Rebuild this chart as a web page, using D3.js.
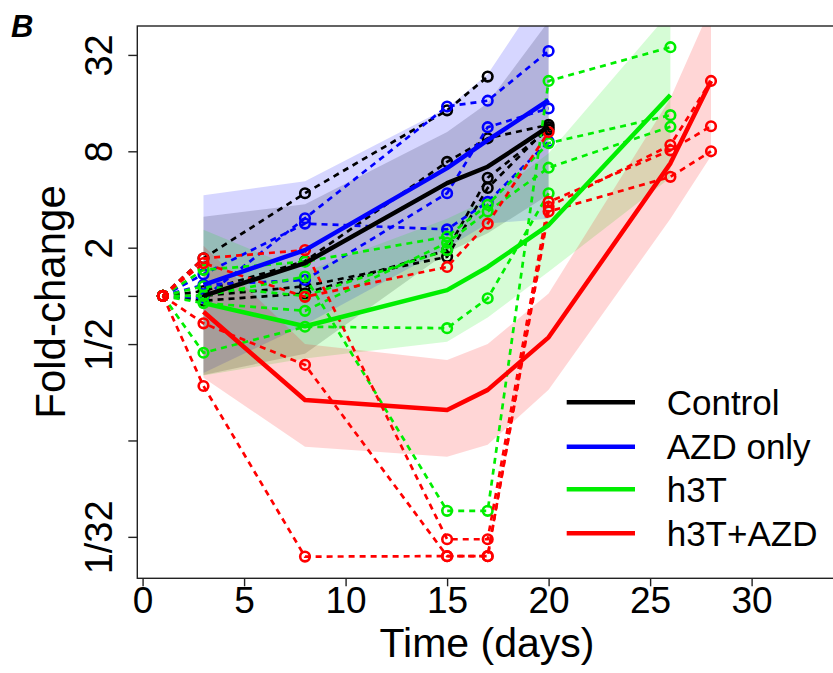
<!DOCTYPE html>
<html><head><meta charset="utf-8">
<script src="https://cdn.jsdelivr.net/npm/d3@7"></script>
<style>
body{margin:0;background:#fff}
text{font-family:Arial,"Liberation Sans",sans-serif}
</style>
</head><body>
<svg id="chart" width="833" height="673"></svg>
<script>
// ---- data (values in log2 fold-change) ----
const days = [1, 3, 8, 15, 17, 20, 26, 28];
const groups = ["Control", "AZD only", "h3T", "h3T+AZD"];
const colors = ["#000000", "#0000ff", "#00ee00", "#ff0000"];
const yTickValues = [5, 3, 1, 0, -1, -3, -5];
const yTickLabels = ["32", "8", "2", "", "1/2", "", "1/32"];
const xTickValues = [0, 5, 10, 15, 20, 25, 30];

// individual animals (aligned to days; null = not measured)
const controlMice = [
  [0, 0.78, 2.13, 3.85, 4.55, null, null, null],
  [0, 0.10, 0.72, 2.78, 3.27, 3.55, null, null],
  [0, -0.10, 0.05, 0.95, 2.45, 3.45, null, null],
  [0, 0.00, 0.20, 0.81, 2.24, 3.50, null, null]
];
const azdMice = [
  [0, -0.04, 1.61, 3.93, 4.05, 5.08, null, null],
  [0, 0.23, 0.33, 2.13, 3.50, 3.89, null, null],
  [0, 0.45, 1.50, 1.38, 1.95, 3.20, null, null]
];
const h3tMice = [
  [0, 0.54, 0.71, 1.23, 1.89, 3.17, 3.75, null],
  [0, -0.15, -0.31, 1.10, 1.75, 2.66, 3.51, null],
  [0, -1.18, -0.64, -0.67, -0.05, 2.13, null, null],
  [0, 0.00, 0.40, -4.46, -4.46, 4.46, 5.16, null],
  [0, 0.20, 0.00, 0.95, null, null, null, null]
];
const comboMice = [
  [0, -1.87, -5.41, -5.40, -5.40, 1.75, 2.47, 3.00],
  [0, 0.78, 0.95, -5.05, -5.05, 1.95, 3.02, 3.52],
  [0, -0.57, -1.43, -5.40, -5.40, 1.85, 3.13, 4.46],
  [0, 0.68, -0.02, 0.60, 1.50, 3.40, null, null]
];

// group means and confidence bands (aligned to days)
const controlMean = [null, 0.00, 0.68, 2.34, 2.68, 3.51, null, null];
const controlLo   = [null, -1.64, -1.20, 0.90, 1.30, 2.10, null, null];
const controlHi   = [null, 1.64, 1.90, 3.40, 4.00, 5.70, null, null];
const azdMean = [null, 0.23, 0.95, 2.65, 3.23, 4.06, null, null];
const azdLo   = [null, -1.60, -0.60, 1.00, 1.50, 1.60, null, null];
const azdHi   = [null, 2.09, 2.38, 3.90, 4.60, 6.50, null, null];
const h3tMean = [null, -0.15, -0.63, 0.12, 0.60, 1.47, 4.17, null];
const h3tLo   = [null, -1.65, -1.30, -0.95, -0.45, 0.50, 2.45, null];
const h3tHi   = [null, 1.37, 0.50, 1.60, 2.00, 2.96, 5.90, null];
const comboMean = [null, -0.33, -2.16, -2.37, -1.95, -0.86, 2.75, 4.46];
const comboLo   = [null, -1.70, -3.13, -3.34, -3.09, -1.95, 1.60, 2.90];
const comboHi   = [null, 1.04, -1.00, -1.33, -1.00, 0.05, 4.10, 6.00];

const mice = [controlMice, azdMice, h3tMice, comboMice];
const means = [controlMean, azdMean, h3tMean, comboMean];
const los = [controlLo, azdLo, h3tLo, comboLo];
const his = [controlHi, azdHi, h3tHi, comboHi];

// ---- layout ----
const svg = d3.select("#chart");
const L = 137.3, R = 845, T = 26, B = 578.3;
const x = d3.scaleLinear().domain([-0.26, 34.6]).range([L, R]);
const y = d3.scaleLinear().domain([-5.86, 5.6]).range([B, T]);

svg.append("defs").append("clipPath").attr("id", "clip")
  .append("rect").attr("x", L).attr("y", T).attr("width", R - L).attr("height", B - T);
const plot = svg.append("g").attr("clip-path", "url(#clip)");

const toPts = arr => days.map((d, i) => ({t: d, v: arr[i]})).filter(p => p.v != null);

// bands
const area = d3.area().x(d => x(d.t)).y0(d => y(d.lo)).y1(d => y(d.hi));
groups.forEach((g, gi) => {
  const pts = days.map((d, i) => ({t: d, lo: los[gi][i], hi: his[gi][i]})).filter(p => p.lo != null);
  plot.append("path").datum(pts).attr("d", area)
    .attr("fill", colors[gi]).attr("fill-opacity", 0.16).attr("stroke", "none");
});

// individual animals
const line = d3.line().x(d => x(d.t)).y(d => y(d.v));
groups.forEach((g, gi) => {
  mice[gi].forEach(m => {
    const pts = toPts(m);
    plot.append("path").datum(pts).attr("d", line)
      .attr("fill", "none").attr("stroke", colors[gi]).attr("stroke-width", 2.7)
      .attr("stroke-dasharray", "6,5");
    plot.selectAll(null).data(pts).enter().append("circle")
      .attr("cx", d => x(d.t)).attr("cy", d => y(d.v)).attr("r", 4.8)
      .attr("fill", "none").attr("stroke", colors[gi]).attr("stroke-width", 2.6);
  });
});

// means
groups.forEach((g, gi) => {
  plot.append("path").datum(toPts(means[gi])).attr("d", line)
    .attr("fill", "none").attr("stroke", colors[gi]).attr("stroke-width", 4.5)
    .attr("stroke-linejoin", "round");
});

// box
svg.append("rect").attr("x", L).attr("y", T).attr("width", R - L).attr("height", B - T)
  .attr("fill", "none").attr("stroke", "#222").attr("stroke-width", 1.4);

// axes
const xAxis = svg.append("g").attr("transform", `translate(0,${B})`)
  .call(d3.axisBottom(x).tickValues(xTickValues).tickSize(8).tickPadding(0).tickSizeOuter(0));
xAxis.select(".domain").remove();
xAxis.selectAll("line").attr("stroke", "#222").attr("stroke-width", 1.4);
xAxis.selectAll("text").attr("font-size", 37).attr("fill", "#000")
  .style("font-family", "Arial, 'Liberation Sans', sans-serif");

const yAxis = svg.append("g").attr("transform", `translate(${L},0)`)
  .call(d3.axisLeft(y).tickValues(yTickValues).tickSize(9).tickSizeOuter(0)
    .tickFormat((d, i) => yTickLabels[i]));
yAxis.select(".domain").remove();
yAxis.selectAll("line").attr("stroke", "#222").attr("stroke-width", 1.4);
yAxis.selectAll("text").attr("font-size", 38).attr("fill", "#000")
  .attr("transform", "rotate(-90)").attr("x", 0).attr("y", -25).attr("dy", 0)
  .attr("text-anchor", "middle")
  .style("font-family", "Arial, 'Liberation Sans', sans-serif");

// titles
svg.append("text").attr("x", 487).attr("y", 657)
  .attr("text-anchor", "middle").attr("font-size", 41).text("Time (days)");
svg.append("text").attr("transform", "translate(65,302) rotate(-90)")
  .attr("text-anchor", "middle").attr("font-size", 42).text("Fold-change");
svg.append("text").attr("x", 11).attr("y", 37)
  .attr("font-size", 31).attr("font-weight", "bold").attr("font-style", "italic").text("B");

// legend
const legY = [402.3, 446.7, 489.3, 533.3];
groups.forEach((g, gi) => {
  svg.append("line").attr("x1", 566.7).attr("x2", 635).attr("y1", legY[gi]).attr("y2", legY[gi])
    .attr("stroke", colors[gi]).attr("stroke-width", 4.5);
  svg.append("text").attr("x", 666.7).attr("y", legY[gi]).attr("dy", "0.36em")
    .attr("font-size", 35).text(g);
});
</script>
</body></html>
